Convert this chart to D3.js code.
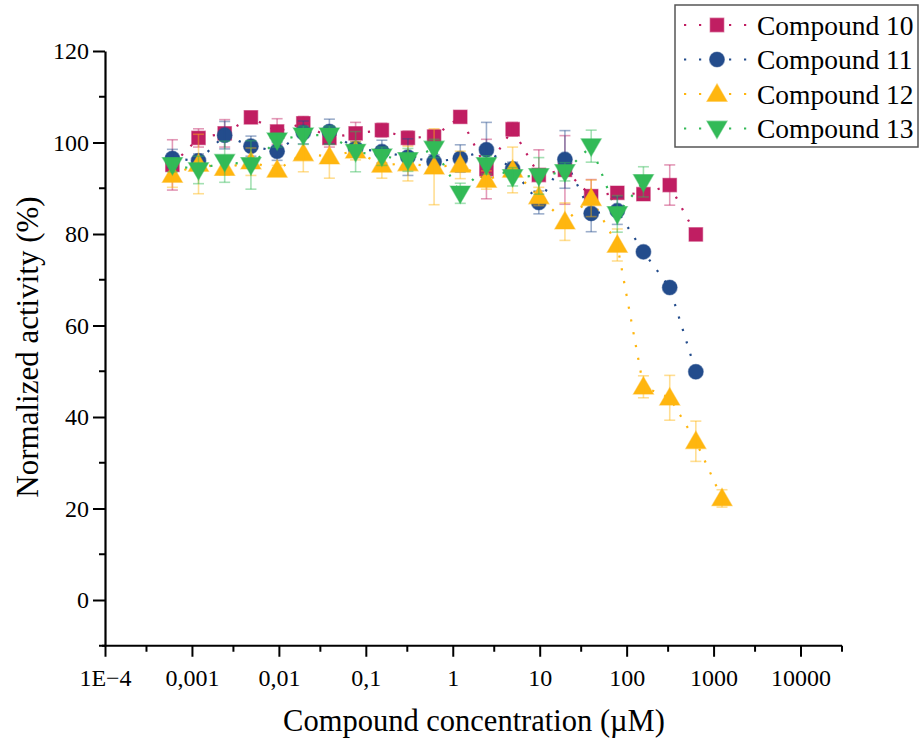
<!DOCTYPE html>
<html>
<head>
<meta charset="utf-8">
<script src="https://cdn.jsdelivr.net/npm/d3@7/dist/d3.min.js"></script>
<style>
  html, body { margin: 0; padding: 0; background: #fff; }
  svg { display: block; }
  text { font-family: "Liberation Serif", "Times New Roman", serif; fill: #000; }
</style>
</head>
<body>
<svg id="chart" width="920" height="749"></svg>
<script>
// Two-fold dilution series, µM
const concentrations = [0.000596, 0.00119, 0.00238, 0.00477, 0.00954, 0.0191, 0.0381, 0.0763,
  0.153, 0.305, 0.610, 1.22, 2.44, 4.88, 9.77, 19.5, 39.1, 78.1, 156, 313, 625, 1250];

const seriesNames = ["Compound 10", "Compound 11", "Compound 12", "Compound 13"];
const seriesColors = ["#C01E62", "#234C8C", "#FFB60F", "#32BA57"];
const seriesShapes = ["square", "circle", "triangle", "triangleDown"];

// Normalized activity (%) per compound
const compound10 = [95.1, 101.0, 102.0, 105.5, 102.4, 104.2, 101.0, 102.0, 102.7, 101.0, 101.3, 105.6,
  94.2, 102.9, 92.9, 94.0, 88.3, 89.0, 88.7, 90.7, 79.9, null];
const compound11 = [96.5, 96.0, 101.6, 99.2, 98.1, 102.2, 102.4, 98.7, 98.0, 96.8, 95.8, 96.5,
  98.4, 94.2, 86.9, 96.3, 84.5, 85.1, 76.1, 68.3, 49.9, null];
const compound12 = [92.9, 95.3, 94.4, 95.8, 94.0, 97.6, 96.9, 98.2, 95.1, 95.4, 94.7, 95.1,
  91.8, 94.0, 88.2, 82.7, 87.8, 77.6, 46.6, 44.2, 34.7, 22.2];
const compound13 = [95.1, 94.0, 95.8, 95.1, 100.5, 101.6, 101.6, 98.0, 97.0, 96.2, 98.7, 88.9,
  95.1, 92.5, 92.7, 93.6, 99.2, 84.4, 91.4, null, null, null];

// Standard deviations
const error10 = [5.5, 2.0, 3.0, 1.0, 2.8, 1.5, 2.0, 2.4, 1.5, 1.5, 1.5, 1.0,
  6.5, 1.5, 5.5, 7.5, 3.6, 1.0, 1.0, 4.4, 0.5, null];
const error11 = [2.0, 1.5, 3.0, 2.2, 2.0, 2.5, 2.7, 1.5, 2.5, 4.0, 1.5, 3.0,
  6.0, 1.5, 2.5, 6.3, 4.0, 3.0, 0.5, 0.5, 0.5, null];
const error12 = [2.7, 6.5, 1.5, 3.0, 1.0, 4.0, 4.7, 2.0, 2.9, 3.8, 8.3, 3.0,
  2.0, 5.0, 2.0, 4.1, 4.0, 3.5, 2.4, 4.9, 4.4, 1.9];
const error13 = [1.5, 3.0, 4.5, 5.3, 1.5, 2.0, 2.0, 4.4, 2.0, 2.5, 2.0, 2.2,
  2.0, 2.0, 4.0, 2.0, 3.5, 4.0, 3.3, null, null, null];

const xMajorTicks = [1e-4, 1e-3, 1e-2, 1e-1, 1, 10, 100, 1000, 10000];
const xTickLabels = ["1E\u22124", "0,001", "0,01", "0,1", "1", "10", "100", "1000", "10000"];
const xMinorTicks = [3e-4, 3e-3, 3e-2, 3e-1, 3, 30, 300, 3000];
const yMajorTicks = [0, 20, 40, 60, 80, 100, 120];
const yMinorTicks = [-10, 10, 30, 50, 70, 90, 110];

const values = [compound10, compound11, compound12, compound13];
const errors = [error10, error11, error12, error13];

const series = seriesNames.map((name, s) => ({
  name, color: seriesColors[s], shape: seriesShapes[s],
  points: concentrations.map((c, i) => ({ x: c, y: values[s][i], e: errors[s][i] }))
    .filter(p => p.y !== null)
}));

const svg = d3.select("#chart");
const x = d3.scaleLog().domain([1e-4, 3e4]).range([105, 842]);
const y = d3.scaleLinear().domain([-10, 120]).range([645.75, 51]);

// Marker shapes
const symbolFor = {
  square: d3.symbol().type(d3.symbolSquare).size(185),
  circle: d3.symbol().type(d3.symbolCircle).size(175),
  triangle: d3.symbol().type(d3.symbolTriangle).size(175)
};
function markerPath(shape) {
  if (shape === "triangleDown") return symbolFor.triangle();
  return symbolFor[shape]();
}
function markerTransform(shape, px, py) {
  if (shape === "triangle") return `translate(${px},${py + 1.5})`;
  if (shape === "triangleDown") return `translate(${px},${py - 1.5}) rotate(180)`;
  return `translate(${px},${py})`;
}

// Axes
const xAxis = d3.axisBottom(x).tickValues(xMajorTicks)
  .tickFormat((d, i) => xTickLabels[i]).tickSize(11).tickSizeOuter(0);
const gx = svg.append("g").attr("transform", `translate(0,${y(-10)})`).call(xAxis);
gx.select(".domain").attr("stroke", "#000").attr("stroke-width", 2.2).attr("d", `M${x(1e-4) - 3},0H${x(3e4)}`);
gx.selectAll(".tick line").attr("stroke-width", 2);
gx.selectAll(".tick text").attr("font-size", 24).attr("dy", "1.1em")
  .style("font-family", "'Liberation Serif', serif");
svg.append("g").attr("transform", `translate(0,${y(-10)})`)
  .selectAll("line").data(xMinorTicks.concat([3e4])).join("line")
  .attr("x1", d => x(d)).attr("x2", d => x(d)).attr("y1", 0).attr("y2", 6)
  .attr("stroke", "#000").attr("stroke-width", 2);

const yAxis = d3.axisLeft(y).tickValues(yMajorTicks).tickSize(12).tickSizeOuter(0);
const gy = svg.append("g").attr("transform", `translate(${x(1e-4)},0)`).call(yAxis);
gy.select(".domain").attr("stroke", "#000").attr("stroke-width", 2.2);
gy.selectAll(".tick line").attr("stroke-width", 2);
gy.selectAll(".tick text").attr("font-size", 24).attr("x", -16)
  .style("font-family", "'Liberation Serif', serif");
svg.append("g").attr("transform", `translate(${x(1e-4)},0)`)
  .selectAll("line").data(yMinorTicks).join("line")
  .attr("x1", -6).attr("x2", 0).attr("y1", d => y(d)).attr("y2", d => y(d))
  .attr("stroke", "#000").attr("stroke-width", 2);

// Axis titles
svg.append("text").attr("x", 474).attr("y", 731).attr("text-anchor", "middle")
  .attr("font-size", 30.5).text("Compound concentration (\u00B5M)");
svg.append("text").attr("transform", "translate(38,347) rotate(-90)").attr("text-anchor", "middle")
  .attr("font-size", 31).text("Normalized activity (%)");

// Dotted connecting lines
const line = d3.line().x(d => x(d.x)).y(d => y(d.y));
const plot = svg.append("g");
series.forEach(s => {
  plot.append("path").datum(s.points).attr("d", line)
    .attr("fill", "none").attr("stroke", s.color).attr("stroke-width", 2.2)
    .attr("stroke-dasharray", "2.2 10.8");
});

// Markers and error bars, series by series
series.forEach(s => {
  const g = plot.append("g");
  g.selectAll("path.marker").data(s.points).join("path").attr("class", "marker")
    .attr("d", markerPath(s.shape))
    .attr("transform", d => markerTransform(s.shape, x(d.x), y(d.y)))
    .attr("fill", s.color).attr("stroke", s.color).attr("stroke-opacity", 0.5).attr("stroke-width", 1.2);
  const eb = g.append("g").attr("stroke", s.color).attr("stroke-opacity", 0.45).attr("stroke-width", 1.6);
  const withErr = s.points.filter(p => p.e !== null && p.e >= 1);
  eb.selectAll("line.v").data(withErr).join("line").attr("class", "v")
    .attr("x1", d => x(d.x)).attr("x2", d => x(d.x))
    .attr("y1", d => y(d.y + d.e)).attr("y2", d => y(d.y - d.e));
  eb.selectAll("line.t").data(withErr).join("line").attr("class", "t")
    .attr("x1", d => x(d.x) - 5.5).attr("x2", d => x(d.x) + 5.5)
    .attr("y1", d => y(d.y + d.e)).attr("y2", d => y(d.y + d.e));
  eb.selectAll("line.b").data(withErr).join("line").attr("class", "b")
    .attr("x1", d => x(d.x) - 5.5).attr("x2", d => x(d.x) + 5.5)
    .attr("y1", d => y(d.y - d.e)).attr("y2", d => y(d.y - d.e));
});

// Legend
const legend = svg.append("g");
legend.append("rect").attr("x", 675).attr("y", 5).attr("width", 243).attr("height", 142)
  .attr("fill", "#fff").attr("stroke", "#555").attr("stroke-width", 1.5);
series.forEach((s, i) => {
  const cy = 25 + i * 34.5;
  const row = legend.append("g");
  row.append("line").attr("x1", 684).attr("x2", 750).attr("y1", cy).attr("y2", cy)
    .attr("stroke", s.color).attr("stroke-width", 2.2).attr("stroke-dasharray", "2.2 12.8");
  row.append("path").attr("d", markerPath(s.shape))
    .attr("transform", markerTransform(s.shape, 717, cy))
    .attr("fill", s.color).attr("stroke", s.color).attr("stroke-opacity", 0.5).attr("stroke-width", 1.2);
  row.append("text").attr("x", 757).attr("y", cy).attr("dy", "0.35em")
    .attr("font-size", 27.5).text(s.name);
});
</script>
</body>
</html>
